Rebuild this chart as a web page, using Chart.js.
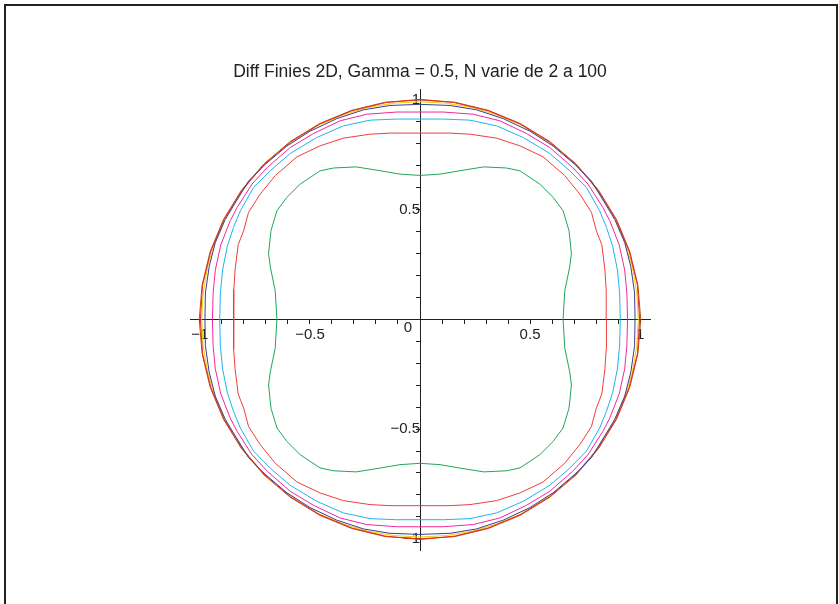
<!DOCTYPE html>
<html lang="fr">
<head>
<meta charset="UTF-8">
<title>Diff Finies 2D</title>
<script src="https://cdn.jsdelivr.net/npm/chart.js"></script>
<style>
    body { margin: 0; background: #fff; }
    #wrap { position: relative; width: 839px; height: 604px; overflow: hidden; }
    #frame {
        position: absolute; left: 4px; top: 4px; width: 834px; height: 700px;
        border: 2px solid #222; box-sizing: border-box; pointer-events: none;
    }
    canvas { position: absolute; left: 0; top: 0; }
</style>
</head>
<body>
<div id="wrap">
    <canvas id="plot" width="839" height="604"></canvas>
    <div id="frame"></div>
</div>
<script>
// one quadrant of each curve (x >= 0, y >= 0), going from the x axis to the y axis
// the curves are symmetric, the other quadrants are mirrored below
const greenX = [0.650, 0.658, 0.680, 0.688, 0.677, 0.650, 0.605, 0.544, 0.454, 0.393, 0.290, 0.196, 0.091, 0];
const greenY = [0, 0.132, 0.238, 0.299, 0.405, 0.495, 0.556, 0.617, 0.677, 0.690, 0.695, 0.680, 0.662, 0.656];

const redX = [0.847, 0.846, 0.840, 0.826, 0.801, 0.779, 0.726, 0.658, 0.559, 0.454, 0.348, 0.227, 0.136, 0];
const redY = [0, 0.136, 0.227, 0.340, 0.405, 0.488, 0.571, 0.655, 0.741, 0.791, 0.826, 0.844, 0.849, 0.849];

const cyanX = [0.910, 0.907, 0.897, 0.875, 0.847, 0.816, 0.756, 0.679, 0.590, 0.469, 0.348, 0.227, 0.106, 0];
const cyanY = [0, 0.120, 0.225, 0.335, 0.420, 0.495, 0.601, 0.679, 0.756, 0.829, 0.882, 0.908, 0.913, 0.913];

const magentaX = [0.943, 0.940, 0.930, 0.905, 0.862, 0.831, 0.763, 0.693, 0.590, 0.484, 0.363, 0.242, 0.106, 0];
const magentaY = [0, 0.120, 0.225, 0.340, 0.450, 0.510, 0.617, 0.693, 0.783, 0.847, 0.905, 0.935, 0.945, 0.945];

const navyX = [0.977, 0.975, 0.958, 0.930, 0.885, 0.840, 0.779, 0.705, 0.605, 0.499, 0.378, 0.257, 0.136, 0];
const navyY = [0, 0.120, 0.240, 0.350, 0.455, 0.530, 0.630, 0.705, 0.790, 0.858, 0.915, 0.955, 0.975, 0.980];

const yellowX = [0.992, 0.985, 0.965, 0.932, 0.888, 0.835, 0.770, 0.707, 0.635, 0.545, 0.455, 0.350, 0.240, 0.120, 0];
const yellowY = [0, 0.120, 0.240, 0.350, 0.455, 0.545, 0.635, 0.707, 0.770, 0.835, 0.888, 0.932, 0.965, 0.985, 0.992];

const redOuterX = [0.998, 0.988, 0.951, 0.891, 0.809, 0.707, 0.588, 0.454, 0.309, 0.156, 0];
const redOuterY = [0, 0.156, 0.309, 0.454, 0.588, 0.707, 0.809, 0.891, 0.951, 0.988, 1.003];

const brownX = [1.003, 0.990, 0.953, 0.893, 0.811, 0.709, 0.589, 0.455, 0.310, 0.157, 0];
const brownY = [0, 0.157, 0.310, 0.455, 0.589, 0.709, 0.811, 0.893, 0.953, 0.990, 1.000];

const tickLabels = { '-1': '\u22121', '-0.5': '\u22120.5', '0.5': '0.5', '1': '1' };

// build the closed curve from one quadrant
function closedCurve(xs, ys) {
    let pts = [];
    for (let i = 0; i < xs.length; i++) pts.push({x: xs[i], y: ys[i]});
    for (let i = xs.length - 1; i >= 0; i--) pts.push({x: -xs[i], y: ys[i]});
    for (let i = 0; i < xs.length; i++) pts.push({x: -xs[i], y: -ys[i]});
    for (let i = xs.length - 1; i >= 0; i--) pts.push({x: xs[i], y: -ys[i]});
    return pts;
}

function curve(label, xs, ys, color) {
    return {
        label: label,
        data: closedCurve(xs, ys),
        borderColor: color,
        backgroundColor: color,
        borderWidth: 1,
        showLine: true,
        pointRadius: 0,
        tension: 0
    };
}

function tickText(value) {
    let key = String(Math.round(value * 10) / 10);
    return tickLabels[key] || '';
}

// Maple puts a single "0" at the origin, down-left of it
const originLabel = {
    id: 'originLabel',
    afterDraw(chart) {
        let ctx = chart.ctx;
        let px = chart.scales.x.getPixelForValue(0);
        let py = chart.scales.y.getPixelForValue(0);
        ctx.save();
        ctx.fillStyle = '#222';
        ctx.font = '15px "Liberation Sans", Arial, sans-serif';
        ctx.textAlign = 'center';
        ctx.textBaseline = 'middle';
        ctx.fillText('0', px - 12, py + 8);
        ctx.restore();
    }
};

const axisStyle = {
    type: 'linear',
    z: 1,  // axes and labels over the curves, like Maple
    border: { display: true, color: '#222', width: 1 },
    grid: { display: true, drawOnChartArea: false, drawTicks: true, tickLength: 4, color: '#222', lineWidth: 1 },
    ticks: {
        stepSize: 0.1,
        includeBounds: false,
        autoSkip: false,
        maxRotation: 0,
        padding: 2,
        color: '#222',
        font: { family: '"Liberation Sans", Arial, sans-serif', size: 15 },
        callback: tickText
    }
};

new Chart(document.getElementById('plot'), {
    type: 'scatter',
    data: {
        datasets: [
            curve('green', greenX, greenY, '#1fa65a'),
            curve('red', redX, redY, '#f03c3c'),
            curve('cyan', cyanX, cyanY, '#1eb4f0'),
            curve('magenta', magentaX, magentaY, '#f0289b'),
            curve('navy', navyX, navyY, '#3c3c96'),
            curve('red outer', redOuterX, redOuterY, '#e42a1e'),
            curve('yellow', yellowX, yellowY, '#f5d000'),
            curve('brown', brownX, brownY, '#b4501e')
        ]
    },
    options: {
        responsive: false,
        animation: false,
        layout: { padding: { left: 190, right: 189, top: 62, bottom: 54 } },
        plugins: {
            legend: { display: false },
            tooltip: { enabled: false },
            title: {
                display: true,
                text: 'Diff Finies 2D, Gamma = 0.5, N varie de 2 a 100',
                color: '#222',
                font: { family: '"Liberation Sans", Arial, sans-serif', size: 17.5, weight: 'normal' },
                padding: { top: 0, bottom: 6 }
            }
        },
        scales: {
            // ranges kept off whole multiples of the step so the ticks stay on 0.1
            x: Object.assign({}, axisStyle, { min: -1.045, max: 1.045, position: { y: 0 } }),
            y: Object.assign({}, axisStyle, { min: -1.051, max: 1.05, position: { x: 0 } })
        }
    },
    plugins: [originLabel]
});
</script>
</body>
</html>
